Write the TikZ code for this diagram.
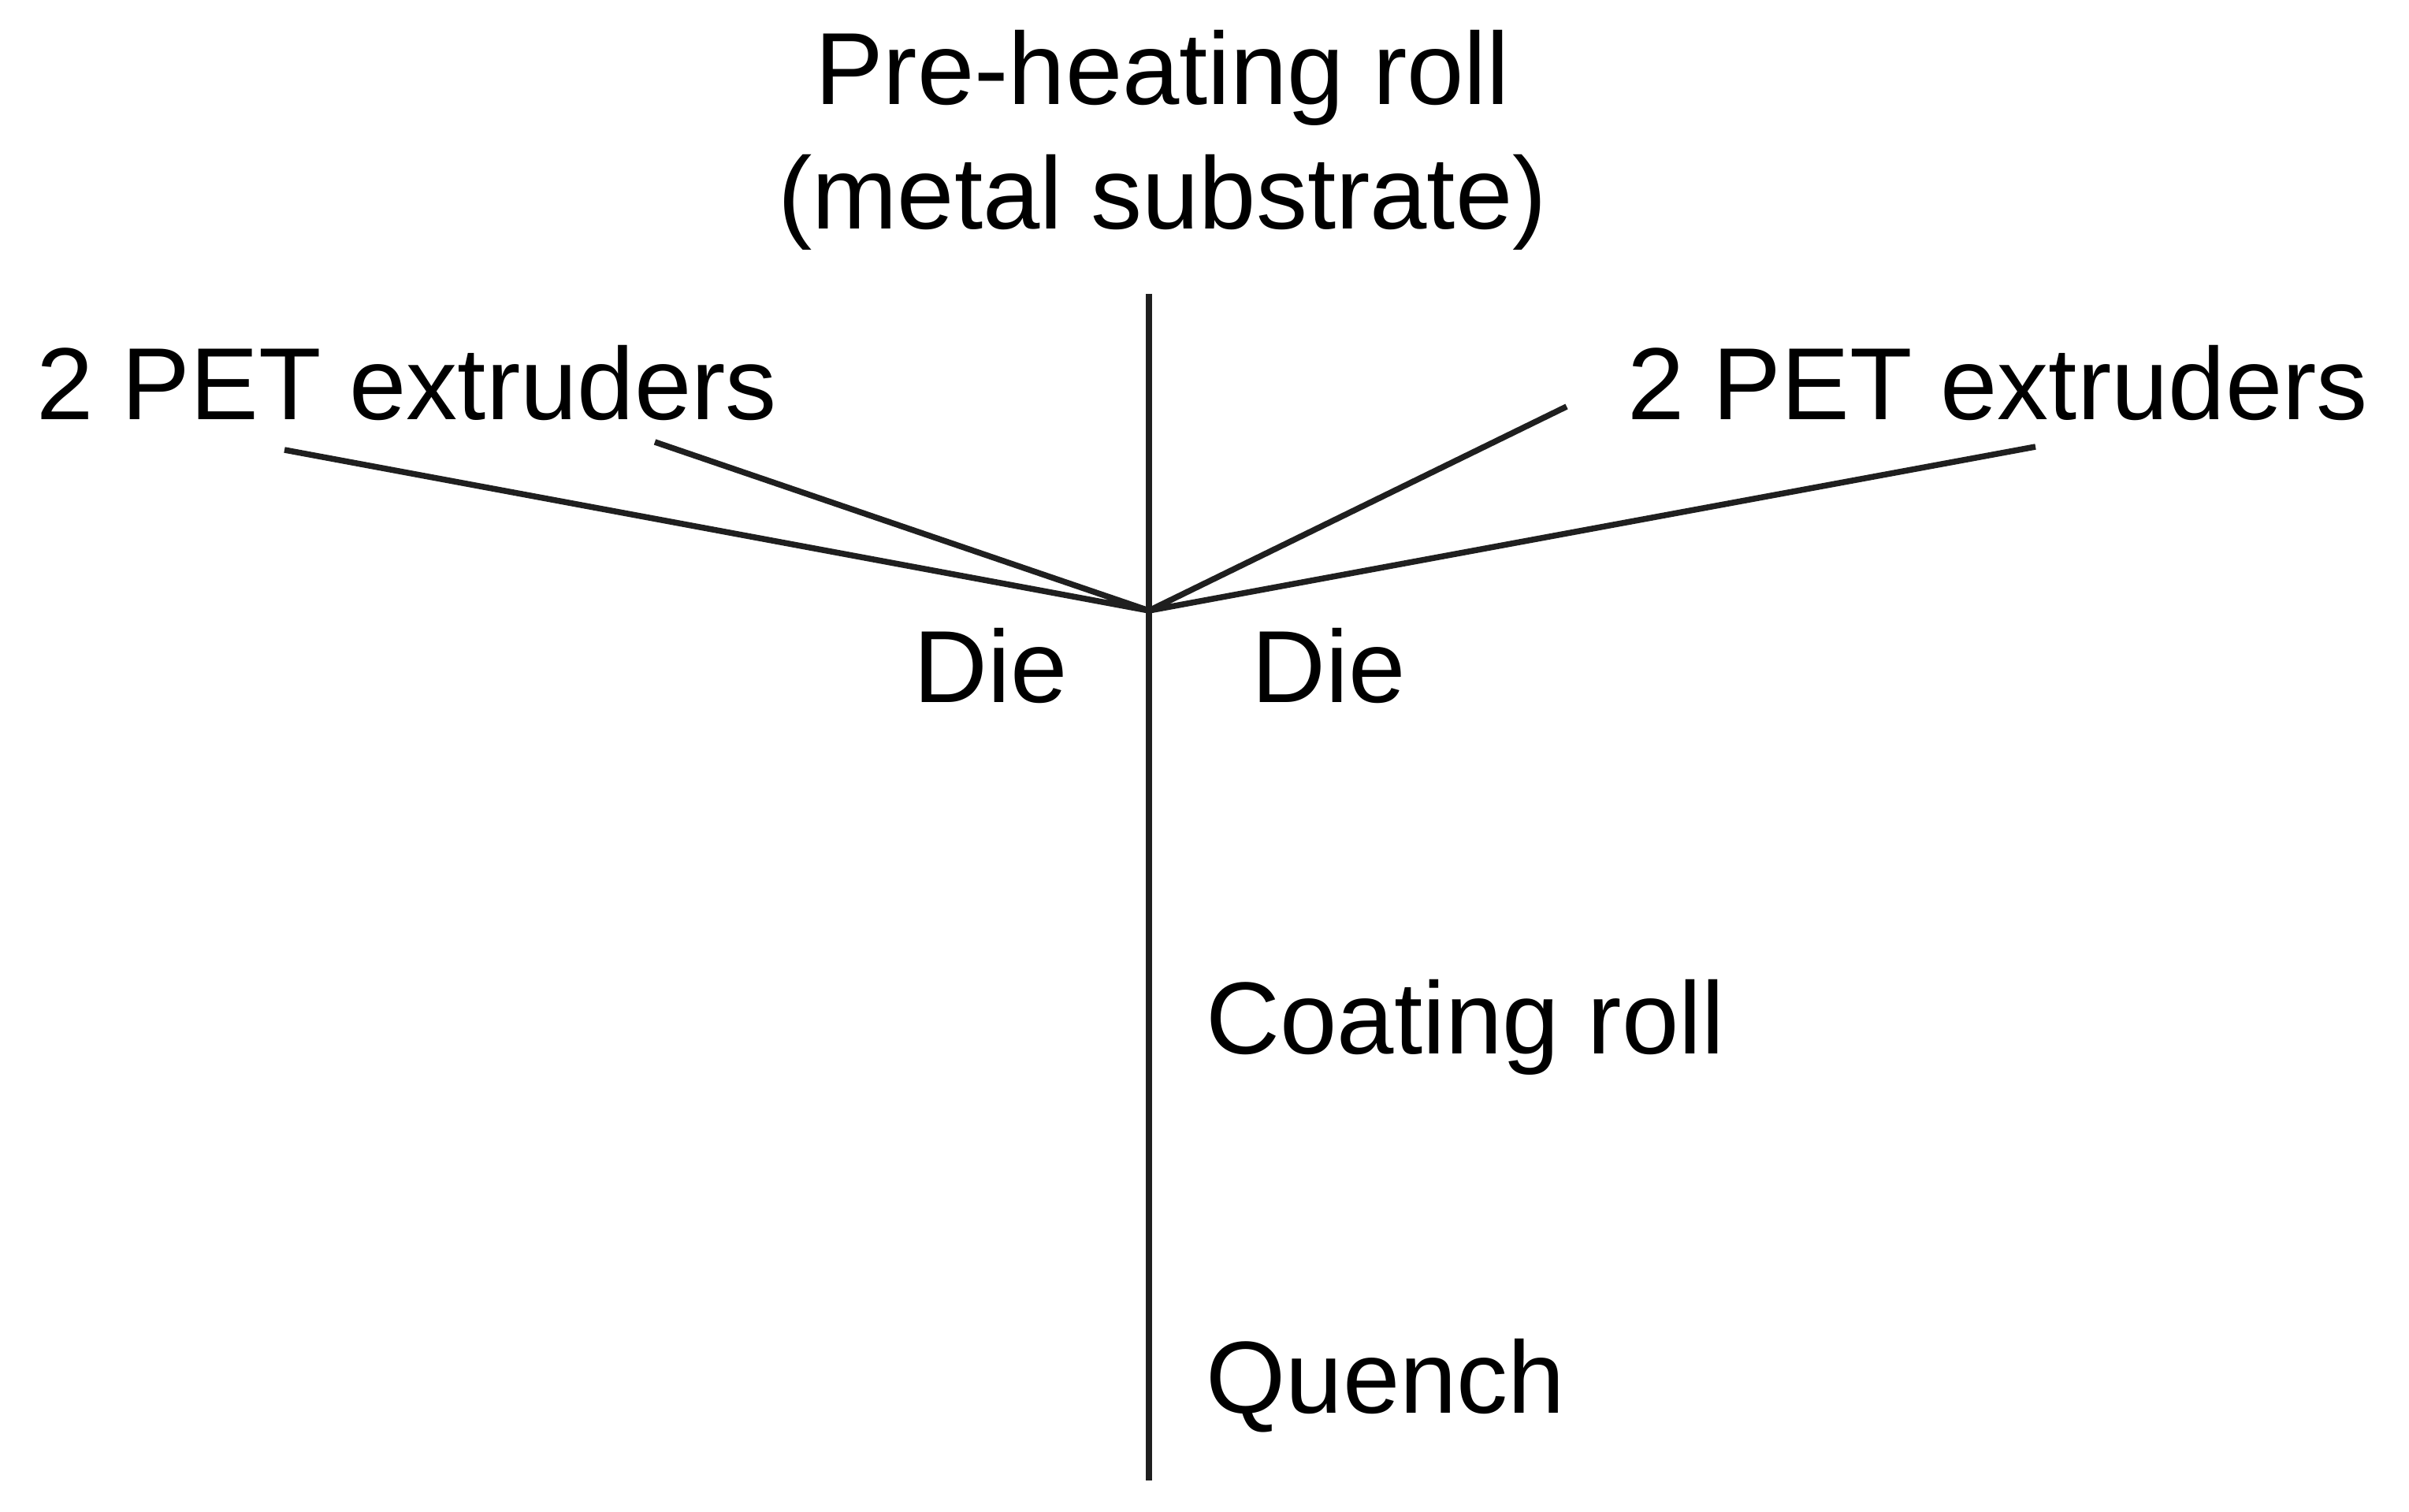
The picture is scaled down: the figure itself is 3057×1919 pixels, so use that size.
\documentclass[tikz,border=0pt]{standalone}
\usepackage{fontspec}
\setmainfont{Liberation Sans}
\begin{document}
\begin{tikzpicture}[x=0.1mm,y=-0.1mm,
  lbl/.style={inner sep=0pt,font=\fontsize{37}{45}\selectfont},
  ln/.style={line width=0.75mm,black!88,line join=round}]
\useasboundingbox (0,0) rectangle (3057,1919);
\coordinate (top) at (1458,373);
\coordinate (bot) at (1458,1879);
\coordinate (die) at (1458,775);
\coordinate (l1) at (361,571);
\coordinate (l2) at (831,561);
\coordinate (r1) at (1988,516);
\coordinate (r2) at (2583,567);
\draw[ln] (top) -- (bot);
\draw[ln] (l1) -- (die) -- (l2);
\draw[ln] (r1) -- (die) -- (r2);
\node[lbl,align=center] (pre) at (1475,178) {Pre-heating roll\\(metal substrate)};
\node[lbl] (exl) at (516,486) {2 PET extruders};
\node[lbl] (exr) at (2535,486) {2 PET extruders};
\node[lbl] (diel) at (1257,845) {Die};
\node[lbl] (dier) at (1686,845) {Die};
\node[lbl,anchor=west] (coat) at (1530,1304) {Coating roll};
\node[lbl,anchor=west] (q) at (1530,1759) {Quench};
\end{tikzpicture}
\end{document}
